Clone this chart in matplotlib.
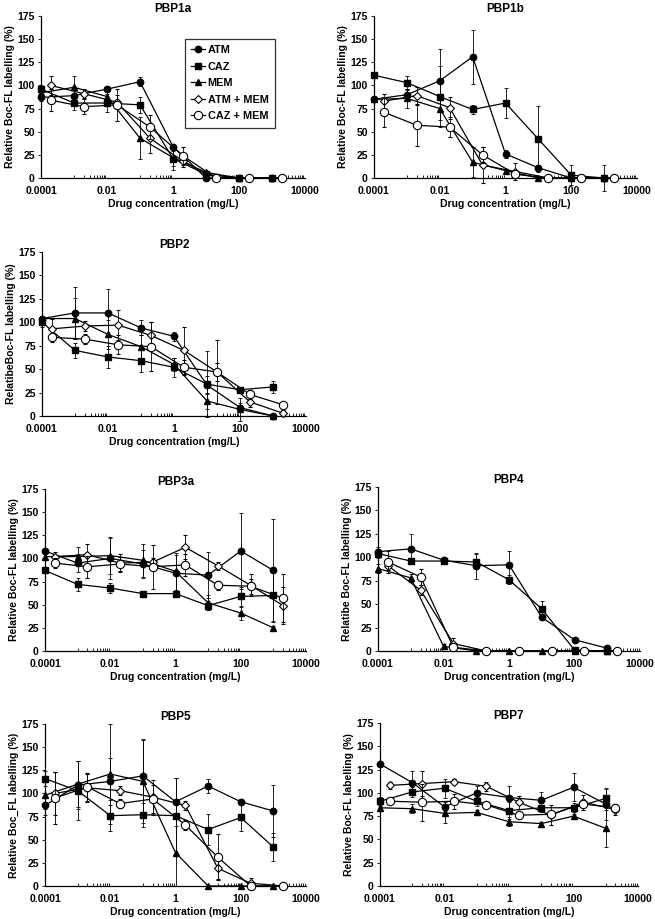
import numpy as np
import matplotlib
matplotlib.use("Agg")
import matplotlib.pyplot as plt
from matplotlib.ticker import FixedLocator, NullFormatter
from matplotlib.lines import Line2D

plt.rcParams['font.family'] = ['Liberation Sans', 'DejaVu Sans']
plt.rcParams['font.weight'] = 'bold'

# concentrations (mg/L)
CONC_SINGLE = [0.0001, 0.001, 0.01, 0.1, 1, 10, 100, 1000]
CONC_COMBO = [0.0002, 0.002, 0.02, 0.2, 2, 20, 200, 2000]

SERIES = ["ATM", "CAZ", "MEM", "ATM + MEM", "CAZ + MEM"]
XTICKS = [0.0001, 0.01, 1, 100, 10000]
XTICKLABELS = ["0.0001", "0.01", "1", "100", "10000"]
YTICKS = [0, 25, 50, 75, 100, 125, 150, 175]

PBP1A_MEAN = {
    "ATM": [87, 89, 96, 104, 34, 0, 0, 0],
    "CAZ": [96, 81, 81, 79, 21, 4, 0, 0],
    "MEM": [92, 98, 88, 43, 22, 6, 0, 0],
    "ATM + MEM": [100, 91, 82, 43, 18, 0, 0, 0],
    "CAZ + MEM": [84, 77, 79, 55, 24, 0, 0, 0],
}
PBP1A_ERR = {
    "ATM": [4, 8, 3, 5, 3, 2, 0, 0],
    "CAZ": [4, 8, 10, 9, 8, 2, 0, 0],
    "MEM": [5, 12, 8, 23, 13, 2, 0, 0],
    "ATM + MEM": [10, 5, 8, 16, 6, 0, 0, 0],
    "CAZ + MEM": [12, 8, 17, 13, 10, 0, 0, 0],
}

PBP1B_MEAN = {
    "ATM": [85, 90, 105, 131, 26, 11, 0, 0],
    "CAZ": [111, 103, 88, 74, 81, 42, 3, 0],
    "MEM": [85, 86, 75, 17, 8, 0, 0, 0],
    "ATM + MEM": [83, 89, 76, 14, 7, 0, 0, 0],
    "CAZ + MEM": [71, 57, 55, 25, 4, 0, 0, 0],
}
PBP1B_ERR = {
    "ATM": [2, 5, 34, 29, 4, 3, 0, 0],
    "CAZ": [2, 7, 33, 5, 16, 36, 11, 14],
    "MEM": [3, 10, 12, 16, 2, 0, 0, 0],
    "ATM + MEM": [8, 9, 12, 19, 9, 0, 0, 0],
    "CAZ + MEM": [16, 22, 11, 9, 3, 0, 0, 0],
}

PBP2_MEAN = {
    "ATM": [104, 110, 110, 94, 85, 33, 9, 0],
    "CAZ": [100, 70, 63, 59, 52, 34, 28, 31],
    "MEM": [104, 104, 87, 74, 55, 16, 7, 0],
    "ATM + MEM": [93, 96, 97, 86, 70, 47, 15, 3],
    "CAZ + MEM": [84, 82, 76, 74, 52, 47, 23, 12],
}
PBP2_ERR = {
    "ATM": [3, 28, 25, 8, 5, 10, 5, 0],
    "CAZ": [5, 8, 12, 12, 10, 35, 3, 6],
    "MEM": [3, 22, 15, 12, 7, 9, 12, 0],
    "ATM + MEM": [10, 5, 16, 14, 25, 34, 5, 3],
    "CAZ + MEM": [5, 5, 10, 26, 8, 10, 5, 3],
}

PBP3A_MEAN = {
    "ATM": [108, 95, 100, 94, 84, 82, 108, 87],
    "CAZ": [87, 72, 68, 62, 62, 49, 59, 60],
    "MEM": [102, 102, 103, 98, 86, 52, 41, 25],
    "ATM + MEM": [102, 104, 95, 96, 112, 92, 71, 49],
    "CAZ + MEM": [95, 91, 94, 91, 93, 71, 70, 57],
}
PBP3A_ERR = {
    "ATM": [3, 10, 22, 15, 20, 25, 41, 56],
    "CAZ": [3, 7, 5, 3, 3, 5, 10, 28],
    "MEM": [3, 10, 20, 18, 20, 8, 7, 2],
    "ATM + MEM": [5, 12, 10, 5, 13, 4, 12, 20],
    "CAZ + MEM": [5, 12, 8, 24, 12, 5, 8, 26],
}

PBP4_MEAN = {
    "ATM": [106, 109, 97, 91, 92, 36, 12, 3],
    "CAZ": [104, 96, 96, 95, 76, 45, 1, 0],
    "MEM": [88, 78, 5, 0, 0, 0, 0, 0],
    "ATM + MEM": [91, 65, 8, 0, 0, 0, 0, 0],
    "CAZ + MEM": [95, 79, 4, 0, 0, 0, 0, 0],
}
PBP4_ERR = {
    "ATM": [5, 16, 3, 14, 15, 3, 2, 1],
    "CAZ": [5, 3, 3, 8, 5, 8, 1, 0],
    "MEM": [5, 4, 2, 0, 0, 0, 0, 0],
    "ATM + MEM": [5, 5, 6, 0, 0, 0, 0, 0],
    "CAZ + MEM": [12, 9, 3, 0, 0, 0, 0, 0],
}

PBP5_MEAN = {
    "ATM": [87, 109, 113, 119, 91, 108, 91, 81],
    "CAZ": [116, 103, 76, 77, 76, 61, 74, 42],
    "MEM": [98, 110, 121, 113, 36, 0, 0, 0],
    "ATM + MEM": [100, 106, 103, 96, 87, 19, 3, 0],
    "CAZ + MEM": [95, 107, 89, 94, 66, 31, 0, 0],
}
PBP5_ERR = {
    "ATM": [10, 26, 25, 40, 26, 8, 3, 28],
    "CAZ": [8, 32, 17, 13, 41, 17, 15, 15],
    "MEM": [15, 25, 54, 45, 36, 0, 0, 0],
    "ATM + MEM": [23, 15, 5, 19, 5, 11, 6, 0],
    "CAZ + MEM": [28, 15, 5, 15, 5, 25, 0, 0],
}

PBP7_MEAN = {
    "ATM": [131, 111, 85, 100, 95, 92, 106, 88],
    "CAZ": [91, 101, 105, 91, 81, 84, 84, 94],
    "MEM": [84, 83, 78, 79, 69, 67, 75, 62],
    "ATM + MEM": [108, 110, 112, 107, 90, 76, 90, 82],
    "CAZ + MEM": [91, 90, 91, 87, 76, 77, 88, 84],
}
PBP7_ERR = {
    "ATM": [3, 12, 5, 7, 12, 9, 15, 17],
    "CAZ": [5, 5, 10, 5, 9, 5, 5, 10],
    "MEM": [3, 5, 10, 3, 5, 2, 2, 20],
    "ATM + MEM": [4, 13, 3, 5, 7, 11, 8, 6],
    "CAZ + MEM": [3, 20, 8, 3, 3, 3, 3, 3],
}

PANELS = [
    ("PBP1a", "Relative Boc-FL labelling (%)", PBP1A_MEAN, PBP1A_ERR, (41, 16, 305, 178), True),
    ("PBP1b", "Relative Boc-FL labelling (%)", PBP1B_MEAN, PBP1B_ERR, (374, 16, 637, 178), False),
    ("PBP2", "RelatibeBoc-FL labelling (%)", PBP2_MEAN, PBP2_ERR, (42, 252, 306, 416), False),
    ("PBP3a", "Relative Boc-FL labelling (%)", PBP3A_MEAN, PBP3A_ERR, (45, 489, 306, 651), False),
    ("PBP4", "Relatibe Boc-FL labelling (%)", PBP4_MEAN, PBP4_ERR, (378, 487, 640, 651), False),
    ("PBP5", "Relative Boc_FL labelling (%)", PBP5_MEAN, PBP5_ERR, (45, 724, 306, 886), False),
    ("PBP7", "Relative Boc-FL labelling (%)", PBP7_MEAN, PBP7_ERR, (380, 723, 638, 886), False),
]

STYLE = {
    "ATM": dict(marker="o", ms=4.6, mfc="black", mec="black"),
    "CAZ": dict(marker="s", ms=4.4, mfc="black", mec="black"),
    "MEM": dict(marker="^", ms=3.8, mfc="black", mec="black"),
    "ATM + MEM": dict(marker="D", ms=3.6, mfc="white", mec="black", mew=0.8),
    "CAZ + MEM": dict(marker="o", ms=6.0, mfc="white", mec="black", mew=0.8),
}

W, H = 655, 919
fig = plt.figure(figsize=(W / 100, H / 100), dpi=100)

minor = []
for n in [-3, -1, 1, 3]:
    for m in range(1, 10):
        minor.append(m * 10.0 ** n)

for title, ylabel, means, errs, (l, t, r, b), legend in PANELS:
    ax = fig.add_axes([l / W, 1 - b / H, (r - l) / W, (b - t) / H])
    for i, s in enumerate(SERIES):
        x = CONC_SINGLE if i < 3 else CONC_COMBO
        ax.errorbar(x, means[s], yerr=errs[s], color="black", lw=0.9,
                    elinewidth=0.6, capsize=1.6, capthick=0.6,
                    zorder=3 + i, clip_on=False, **STYLE[s])
    ax.set_xscale("log")
    ax.set_xlim(0.0001, 10000)
    ax.set_ylim(0, 175)
    ax.xaxis.set_major_locator(FixedLocator(XTICKS))
    ax.set_xticklabels(XTICKLABELS)
    ax.xaxis.set_minor_locator(FixedLocator(minor))
    ax.xaxis.set_minor_formatter(NullFormatter())
    ax.set_yticks(YTICKS)
    ax.tick_params(axis="x", which="major", direction="in", length=0, labelsize=7.5, pad=6)
    ax.tick_params(axis="x", which="minor", direction="in", length=2.5, width=0.6)
    ax.tick_params(axis="y", which="major", direction="out", length=2.5, width=0.6,
                   labelsize=7.5, pad=2)
    for lab in ax.get_xticklabels() + ax.get_yticklabels():
        lab.set_fontweight("bold")
    for sp in ["top", "right"]:
        ax.spines[sp].set_visible(False)
    for sp in ["left", "bottom"]:
        ax.spines[sp].set_linewidth(0.9)
    ax.set_title(title, fontsize=8.5, fontweight="bold", pad=3)
    ax.set_xlabel("Drug concentration (mg/L)", fontsize=7.5, fontweight="bold", labelpad=2)
    ax.set_ylabel(ylabel, fontsize=7.5, fontweight="bold", labelpad=2)
    if legend:
        handles = [Line2D([0], [0], color="black", lw=0.9, **STYLE[s]) for s in SERIES]
        leg = ax.legend(handles, SERIES, loc="upper left", bbox_to_anchor=(0.545, 0.86),
                        frameon=True, fancybox=False, edgecolor="black", fontsize=7.8,
                        handlelength=1.3, handletextpad=0.2, borderpad=0.6,
                        labelspacing=0.6, borderaxespad=0)
        leg.get_frame().set_linewidth(0.9)
        for txt in leg.get_texts():
            txt.set_fontweight("bold")

fig.savefig("out.png", dpi=100)
